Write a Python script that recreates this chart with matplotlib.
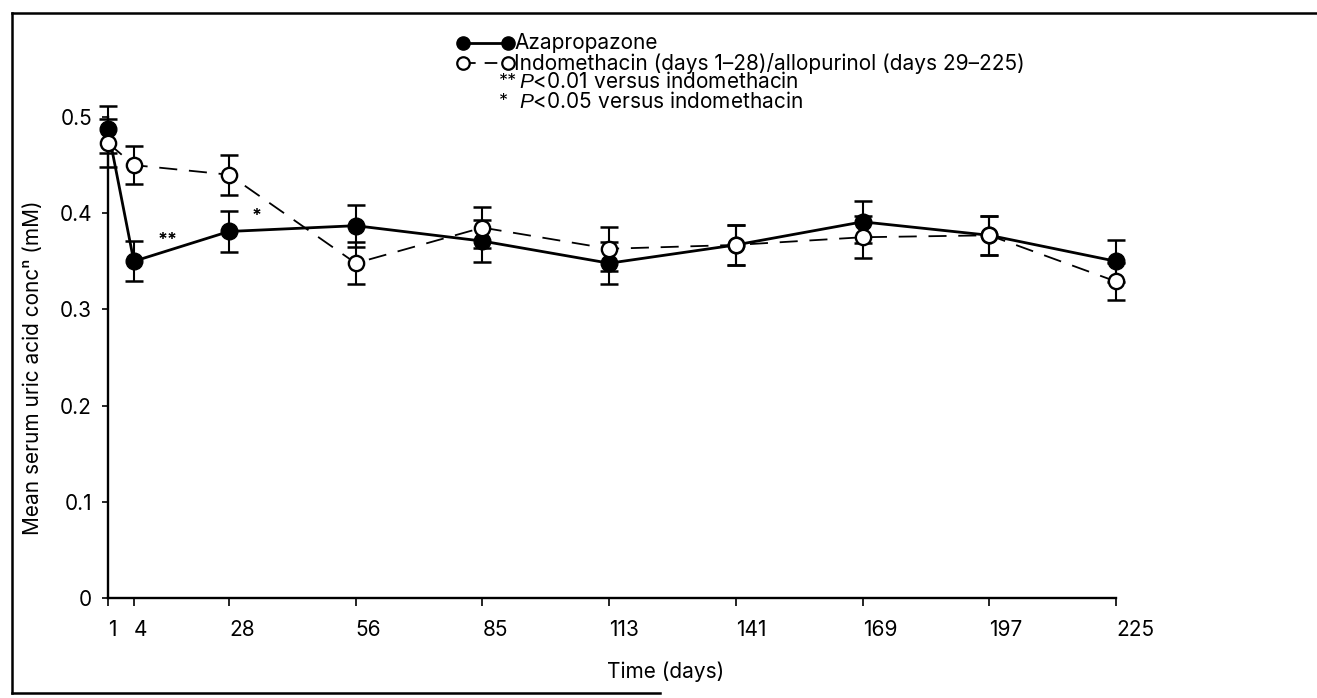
import matplotlib
matplotlib.use("Agg")
import matplotlib.pyplot as plt
import matplotlib.transforms as mtransforms
from matplotlib.lines import Line2D
import numpy as np

plt.rcParams["font.family"] = ["Inter", "Liberation Sans", "DejaVu Sans"]
plt.rcParams["mathtext.fontset"] = "custom"
plt.rcParams["mathtext.rm"] = "Inter"
plt.rcParams["mathtext.it"] = "Liberation Sans:italic"

# data (mean +/- SEM, mM)
DAYS = [1, 4, 28, 56, 85, 113, 141, 169, 197, 225]
AZA_MEAN = [0.487, 0.350, 0.381, 0.387, 0.371, 0.348, 0.367, 0.391, 0.377, 0.350]
AZA_SEM = [0.024, 0.021, 0.021, 0.022, 0.022, 0.022, 0.021, 0.022, 0.020, 0.022]
INDO_MEAN = [0.473, 0.450, 0.440, 0.348, 0.385, 0.363, 0.367, 0.375, 0.377, 0.329]
INDO_SEM = [0.025, 0.020, 0.021, 0.022, 0.021, 0.023, 0.021, 0.022, 0.020, 0.019]
Y_TICKS = [0, 0.1, 0.2, 0.3, 0.4, 0.5]
Y_LABELS = ["0", "0.1", "0.2", "0.3", "0.4", "0.5"]

AZA_LABEL = "Azapropazone"
INDO_LABEL = "Indomethacin (days 1\u201328)/allopurinol (days 29\u2013225)"
NOTES = [("**", "$P$<0.01 versus indomethacin"), ("*", "$P$<0.05 versus indomethacin")]
SIG_MARKS = [(10, 0.372, "**"), (33, 0.397, "*")]

# the time axis is not linear: days 1 and 4 squeezed, then one slot per 4 weeks
SLOTS = [0, 0.204, 0.955, 1.955, 2.955, 3.955, 4.955, 5.955, 6.955, 7.955]

FS = 15


def forward(x):
    return np.interp(x, DAYS, SLOTS)


def inverse(s):
    return np.interp(s, SLOTS, DAYS)


def main() -> None:
    fig = plt.figure(figsize=(13.17, 6.98), dpi=100)
    ax = fig.add_axes([0.082, 0.1433, 0.7654, 0.6891])
    ax.set_xscale("function", functions=(forward, inverse))

    err_kw = dict(fmt="none", ecolor="black", elinewidth=1.5, capsize=6.5, capthick=1.8,
                  clip_on=False)
    ax.errorbar(DAYS, AZA_MEAN, yerr=AZA_SEM, zorder=2, **err_kw)
    ax.errorbar(DAYS, INDO_MEAN, yerr=INDO_SEM, zorder=2, **err_kw)

    ax.plot(DAYS, AZA_MEAN, color="black", lw=2.0, marker="o", ms=12, mfc="black",
            mec="black", clip_on=False, zorder=3)
    ax.plot(DAYS, INDO_MEAN, color="black", lw=1.3, dashes=(10, 6.5), marker="o", ms=11,
            mfc="white", mec="black", mew=1.7, clip_on=False, zorder=4)

    for x, y, s in SIG_MARKS:
        ax.text(x, y, s, fontsize=13, ha="left", va="center", fontweight="bold")

    ax.set_xlim(1, 225)
    ax.set_ylim(0, 0.5)
    ax.set_xticks(DAYS)
    ax.set_xticklabels([str(d) for d in DAYS], fontsize=FS, ha="left")
    shift = mtransforms.ScaledTranslation(-0.06, 0, fig.dpi_scale_trans)
    for lab in ax.get_xticklabels():
        lab.set_transform(lab.get_transform() + shift)
    ax.set_yticks(Y_TICKS)
    ax.set_yticklabels(Y_LABELS, fontsize=FS)

    for side in ("top", "right"):
        ax.spines[side].set_visible(False)
    for side in ("left", "bottom"):
        ax.spines[side].set_linewidth(1.7)
    ax.tick_params(axis="x", direction="out", length=6, width=1.2, pad=10)
    ax.tick_params(axis="y", direction="out", length=4.5, width=1.2, pad=7)

    ax.set_xlabel("Time (days)", fontsize=FS)
    ax.xaxis.set_label_coords(0.553, -0.132)
    ax.set_ylabel("Mean serum uric acid conc\u207f (mM)", fontsize=FS)
    ax.yaxis.set_label_coords(-0.064, 0.478)

    # hand-made key, as in the printed figure
    W, H = 1317, 698
    key_x = [463 / W, 508 / W]
    fig.add_artist(Line2D(key_x, [1 - 43 / H] * 2, color="black", lw=2.0, marker="o",
                          ms=9.5, mfc="black", mec="black"))
    fig.add_artist(Line2D(key_x, [1 - 63 / H] * 2, color="black", lw=1.3, dashes=(7, 5),
                          marker="o", ms=9, mfc="white", mec="black", mew=1.6))
    fig.text(514 / W, 1 - 43 / H, AZA_LABEL, fontsize=FS, va="center")
    fig.text(514 / W, 1 - 63 / H, INDO_LABEL, fontsize=FS, va="center")
    for i, (stars, txt) in enumerate(NOTES):
        y = 1 - (82 + 19 * i) / H
        fig.text(499 / W, y, stars, fontsize=13, va="center")
        fig.text(519 / W, y, txt, fontsize=FS, va="center")

    # border of the scanned panel
    frame = dict(color="black", lw=1.8, transform=fig.transFigure)
    fig.add_artist(Line2D([12 / W, 12 / W], [1 - 13 / H, 1 - 693 / H], **frame))
    fig.add_artist(Line2D([12 / W, 1.0], [1 - 13 / H, 1 - 13 / H], **frame))
    fig.add_artist(Line2D([12 / W, 660 / W], [1 - 693 / H, 1 - 693 / H], **frame))

    fig.savefig("out.png", dpi=100)
    plt.close(fig)


if __name__ == "__main__":
    main()
